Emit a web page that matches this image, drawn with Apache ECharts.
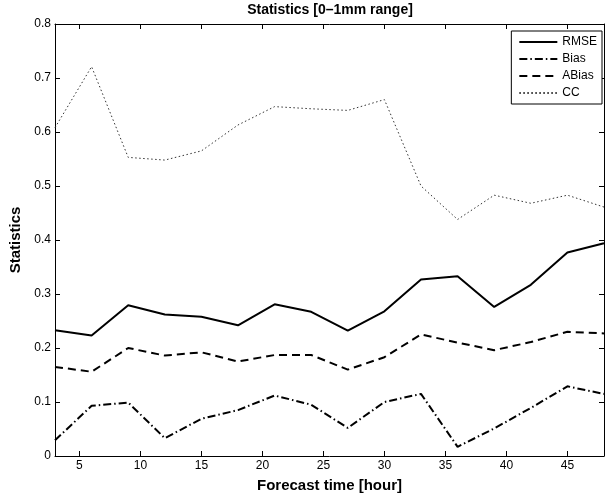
<!DOCTYPE html>
<html>
<head>
<meta charset="utf-8">
<script src="https://cdn.jsdelivr.net/npm/echarts@6/dist/echarts.min.js"></script>
<style>html,body{margin:0;padding:0;background:#fff;}#chart{width:605px;height:498px;}</style>
</head>
<body>
<div id="chart"></div>
<script>
var hours = [3, 6, 9, 12, 15, 18, 21, 24, 27, 30, 33, 36, 39, 42, 45, 48];
var rmse  = [0.233, 0.223, 0.279, 0.262, 0.258, 0.242, 0.281, 0.267, 0.232, 0.268, 0.327, 0.333, 0.276, 0.317, 0.377, 0.394];
var bias  = [0.029, 0.093, 0.099, 0.033, 0.069, 0.085, 0.112, 0.095, 0.052, 0.100, 0.115, 0.017, 0.051, 0.089, 0.129, 0.115];
var abias = [0.165, 0.156, 0.200, 0.186, 0.192, 0.175, 0.187, 0.187, 0.160, 0.183, 0.225, 0.210, 0.196, 0.211, 0.230, 0.227];
var cc    = [0.608, 0.721, 0.553, 0.548, 0.565, 0.613, 0.647, 0.643, 0.640, 0.660, 0.500, 0.438, 0.483, 0.468, 0.483, 0.461];
var xTicks = [5, 10, 15, 20, 25, 30, 35, 40, 45];
var titleText = 'Statistics [0\u20131mm range]';
var xName = 'Forecast time [hour]';
var yName = 'Statistics';

function pairs(vals) { return hours.map(function (h, i) { return [h, vals[i]]; }); }

var FONT = '"Liberation Sans", Arial, Helvetica, sans-serif';
var chart = echarts.init(document.getElementById('chart'), null, {renderer: 'canvas'});

function lineSeries(name, vals, width, type, color) {
  return {
    name: name, type: 'line', data: pairs(vals), symbol: 'none', showSymbol: false,
    xAxisIndex: 0, yAxisIndex: 0, animation: false,
    lineStyle: {color: color, width: width, type: type},
    itemStyle: {color: color}
  };
}

var option = {
  animation: false,
  backgroundColor: '#fff',
  grid: {left: 55, right: 1, top: 24, bottom: 39, containLabel: false},
  graphic: [{
    type: 'text', x: 330, y: 10,
    style: {text: titleText, textAlign: 'center', textVerticalAlign: 'middle',
            font: 'bold 14px ' + FONT, fill: '#000'}
  }],
  legend: {
    orient: 'vertical', right: 3, top: 31,
    backgroundColor: '#fff', borderColor: '#000', borderWidth: 1, borderRadius: 0,
    padding: [5, 5, 5, 7], itemGap: 5, itemWidth: 38, itemHeight: 10,
    itemStyle: {opacity: 0},
    textStyle: {fontSize: 12, fontFamily: FONT, color: '#000', padding: [0, 0, 0, 0]},
    data: ['RMSE', 'Bias', 'ABias', 'CC']
  },
  xAxis: [{
    type: 'value', min: 3, max: 48, position: 'bottom',
    name: xName, nameLocation: 'middle', nameGap: 22,
    nameTextStyle: {fontSize: 15, fontWeight: 'bold', fontFamily: FONT, color: '#000'},
    axisLine: {show: true, onZero: false, lineStyle: {color: '#000', width: 1}},
    axisTick: {show: true, inside: true, length: 5, customValues: xTicks, lineStyle: {color: '#000'}},
    axisLabel: {show: true, customValues: xTicks, fontSize: 12, fontFamily: FONT, color: '#000', margin: 4},
    splitLine: {show: false}
  }, {
    type: 'value', min: 3, max: 48, position: 'top',
    axisLine: {show: true, onZero: false, lineStyle: {color: '#000', width: 1}},
    axisTick: {show: true, inside: true, length: 5, customValues: xTicks, lineStyle: {color: '#000'}},
    axisLabel: {show: false},
    splitLine: {show: false}
  }],
  yAxis: [{
    type: 'value', min: 0, max: 0.8, interval: 0.1, position: 'left',
    name: yName, nameLocation: 'middle', nameGap: 29, nameRotate: 90,
    nameTextStyle: {fontSize: 15, fontWeight: 'bold', fontFamily: FONT, color: '#000'},
    axisLine: {show: true, onZero: false, lineStyle: {color: '#000', width: 1}},
    axisTick: {show: true, inside: true, length: 5, lineStyle: {color: '#000'}},
    axisLabel: {show: true, fontSize: 12, fontFamily: FONT, color: '#000', margin: 4},
    splitLine: {show: false}
  }, {
    type: 'value', min: 0, max: 0.8, interval: 0.1, position: 'right',
    axisLine: {show: true, onZero: false, lineStyle: {color: '#000', width: 1}},
    axisTick: {show: true, inside: true, length: 5, lineStyle: {color: '#000'}},
    axisLabel: {show: false},
    splitLine: {show: false}
  }],
  series: [
    lineSeries('RMSE', rmse, 2, 'solid', '#000'),
    lineSeries('Bias', bias, 2, [8, 3, 1.5, 3], '#000'),
    lineSeries('ABias', abias, 2, [8, 5], '#000'),
    lineSeries('CC', cc, 1, [1.5, 2.5], '#333')
  ]
};
chart.setOption(option);
</script>
</body>
</html>
